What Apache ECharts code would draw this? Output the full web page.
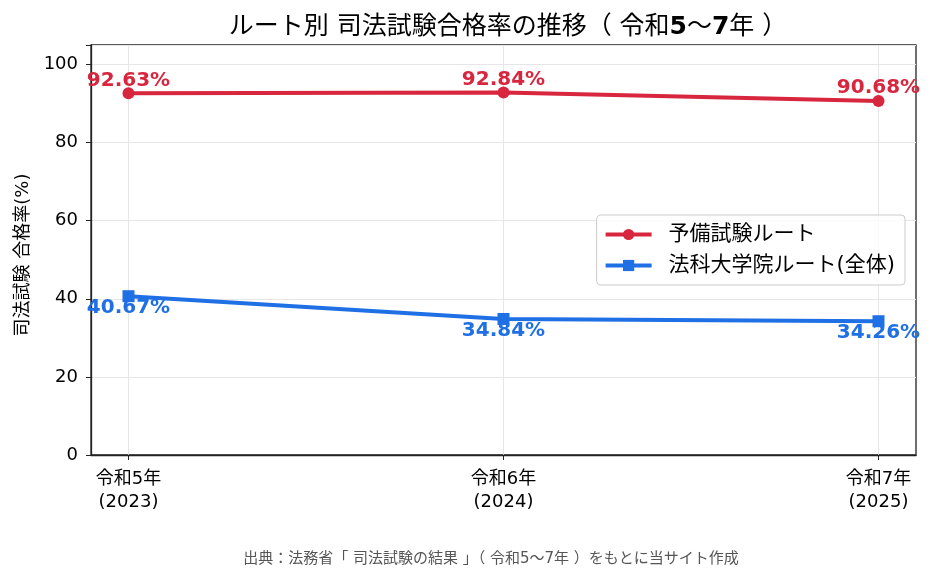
<!DOCTYPE html>
<html>
<head>
<meta charset="utf-8">
<script src="https://cdn.jsdelivr.net/npm/echarts@6/dist/echarts.min.js"></script>
<style>
  html, body { margin: 0; padding: 0; background: #fff; }
  #chart { width: 934px; height: 583px; }
</style>
</head>
<body>
<div id="chart"></div>
<script>
var categories = ['令和5年\n(2023)', '令和6年\n(2024)', '令和7年\n(2025)'];
var yobiRate = [92.63, 92.84, 90.68];
var lawSchoolRate = [40.67, 34.84, 34.26];
var yTicks = [0, 20, 40, 60, 80, 100];

var FONT = '"DejaVu Sans", "Noto Sans CJK JP", sans-serif';
var RED = '#D7263D';
var BLUE = '#1F6FE5';

const toPoints = (arr) => arr.map((v, i) => [i, v]);
const catIdx = categories.map((c, i) => i);

const getOptionChart = () => {
  return {
    animation: false,
    textStyle: { fontFamily: FONT },
    title: {
      text: 'ルート別 司法試験合格率の推移（ 令和{b|5}〜{b|7}年 ）',
      left: 503,
      textAlign: 'center',
      top: 10,
      textStyle: {
        fontFamily: FONT,
        fontSize: 25,
        fontWeight: 'normal',
        color: '#000',
        rich: {
          b: { fontFamily: FONT, fontSize: 25, fontWeight: 'bold', color: '#000' }
        }
      }
    },
    graphic: [{
      type: 'text',
      x: 491,
      y: 552,
      style: {
        text: '出典：法務省「 司法試験の結果 」（ 令和5〜7年 ）をもとに当サイト作成',
        fontFamily: FONT,
        fontSize: 15,
        align: 'center',
        fill: '#555'
      }
    }],
    legend: {
      orient: 'vertical',
      right: 29,
      top: 215,
      itemWidth: 46,
      itemHeight: 14,
      itemGap: 10,
      padding: [9, 10, 9, 7],
      borderColor: '#cccccc',
      borderWidth: 1,
      borderRadius: 4,
      backgroundColor: 'rgba(255,255,255,0.8)',
      lineStyle: { width: 4 },
      textStyle: { fontFamily: FONT, fontSize: 21, color: '#000', padding: [0, 0, 0, 12] },
      data: ['予備試験ルート', '法科大学院ルート(全体)']
    },
    grid: {
      left: 91, right: 18, top: 45, bottom: 128,
      show: true, borderColor: '#222', borderWidth: 1.3,
      containLabel: false
    },
    xAxis: {
      type: 'value',
      min: -0.1,
      max: 2.1,
      axisLine: { show: true, onZero: false, lineStyle: { color: '#222', width: 1.3 } },
      axisTick: { show: true, customValues: catIdx, length: 5, lineStyle: { color: '#222' } },
      axisLabel: {
        customValues: catIdx,
        formatter: (v) => categories[Math.round(v)],
        fontFamily: FONT, fontSize: 18, color: '#000', lineHeight: 23, margin: 13
      },
      splitLine: { show: true, lineStyle: { color: '#e6e6e6', width: 1 } }
    },
    yAxis: {
      type: 'value',
      min: 0,
      max: 105,
      interval: 20,
      name: '司法試験 合格率(%)',
      nameLocation: 'middle',
      nameGap: 57,
      nameTextStyle: { fontFamily: FONT, fontSize: 18, color: '#000', padding: [0, 10, 0, 0] },
      axisLine: { show: true, onZero: false, lineStyle: { color: '#222', width: 1.3 } },
      axisTick: { show: true, length: 5, lineStyle: { color: '#222' } },
      axisLabel: {
        fontFamily: FONT, fontSize: 18, color: '#000', margin: 13,
        formatter: (v) => (yTicks.indexOf(v) >= 0 ? String(v) : '')
      },
      splitLine: { show: true, lineStyle: { color: '#e6e6e6', width: 1 } }
    },
    series: [
      {
        name: '予備試験ルート',
        type: 'line',
        data: toPoints(yobiRate),
        color: RED,
        symbol: 'circle',
        symbolSize: 12,
        lineStyle: { width: 4, color: RED },
        itemStyle: { color: RED },
        label: {
          show: true, position: 'top', distance: -3,
          formatter: (p) => p.value[1].toFixed(2) + '%',
          fontFamily: FONT, fontSize: 20, fontWeight: 'bold', color: RED
        }
      },
      {
        name: '法科大学院ルート(全体)',
        type: 'line',
        data: toPoints(lawSchoolRate),
        color: BLUE,
        symbol: 'rect',
        symbolSize: 12,
        lineStyle: { width: 4, color: BLUE },
        itemStyle: { color: BLUE },
        label: {
          show: true, position: 'bottom', distance: -4,
          formatter: (p) => p.value[1].toFixed(2) + '%',
          fontFamily: FONT, fontSize: 20, fontWeight: 'bold', color: BLUE
        }
      }
    ]
  };
};

const initCharts = () => {
  const chart = echarts.init(document.getElementById('chart'));
  chart.setOption(getOptionChart());
};

window.addEventListener('load', () => {
  initCharts();
});
</script>
</body>
</html>
